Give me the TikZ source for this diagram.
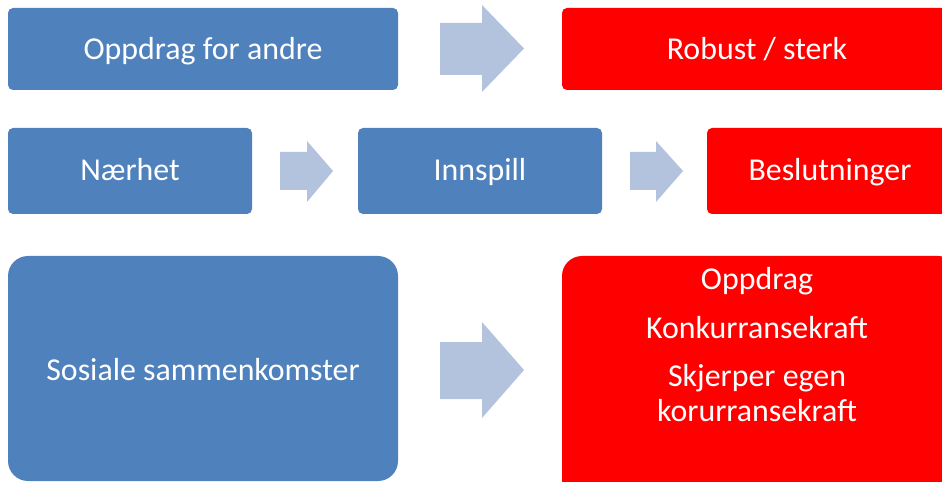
\documentclass[tikz,border=0pt]{standalone}
\usepackage{fontspec}
\setmainfont{Carlito}
\definecolor{boxblue}{HTML}{4F81BD}
\definecolor{arrowblue}{HTML}{B3C3DE}
\definecolor{boxred}{HTML}{FF0000}
\begin{document}
\begin{tikzpicture}[x=1bp,y=-1bp,
  smallbox/.style={rounded corners=5bp},
  bigbox/.style={rounded corners=20bp},
  bluefill/.style={fill=boxblue},
  redfill/.style={fill=boxred},
  blockarrow/.style={fill=arrowblue},
  lbl/.style={anchor=base,text=white,inner sep=0pt,font=\fontsize{32}{38}\selectfont}]
\useasboundingbox (0,0) rectangle (942,482);
\clip (0,0) rectangle (942,482);
% row 1
\fill[bluefill,smallbox] (8,8) rectangle (398,90);
\node[lbl] (t1) at (203,60) {Oppdrag for andre};
\fill[blockarrow] (440,23) -- (482,23) -- (482,5) -- (524,48.5) -- (482,92) -- (482,75) -- (440,75) -- cycle;
\fill[redfill,smallbox] (562,8) rectangle (952,90);
\node[lbl] (t2) at (757,60) {Robust / sterk};
% row 2
\fill[bluefill,smallbox] (8,128) rectangle (252,214);
\node[lbl] (t3) at (130,181) {Nærhet};
\fill[blockarrow] (280,152) -- (307,152) -- (307,141) -- (333,171) -- (307,202) -- (307,190) -- (280,190) -- cycle;
\fill[bluefill,smallbox] (358,128) rectangle (602,214);
\node[lbl] (t4) at (480,181) {Innspill};
\fill[blockarrow] (630,152) -- (656,152) -- (656,141) -- (683,171) -- (656,202) -- (656,190) -- (630,190) -- cycle;
\fill[redfill,smallbox] (707,128) rectangle (952,214);
\node[lbl] (t5) at (830,181) {Beslutninger};
% row 3
\fill[bluefill,bigbox] (8,256) rectangle (398,481);
\node[lbl] (t6) at (203,380) {Sosiale sammenkomster};
\fill[blockarrow] (440,342) -- (482,342) -- (482,322) -- (524,370) -- (482,418) -- (482,399) -- (440,399) -- cycle;
\fill[redfill,bigbox] (562,256) rectangle (958,500);
\node[lbl] (t7) at (757,290) {Oppdrag};
\node[lbl] (t8) at (757,339) {Konkurransekraft};
\node[lbl] (t9) at (757,386) {Skjerper egen};
\node[lbl] (t10) at (757,421) {korurransekraft};
\end{tikzpicture}
\end{document}
